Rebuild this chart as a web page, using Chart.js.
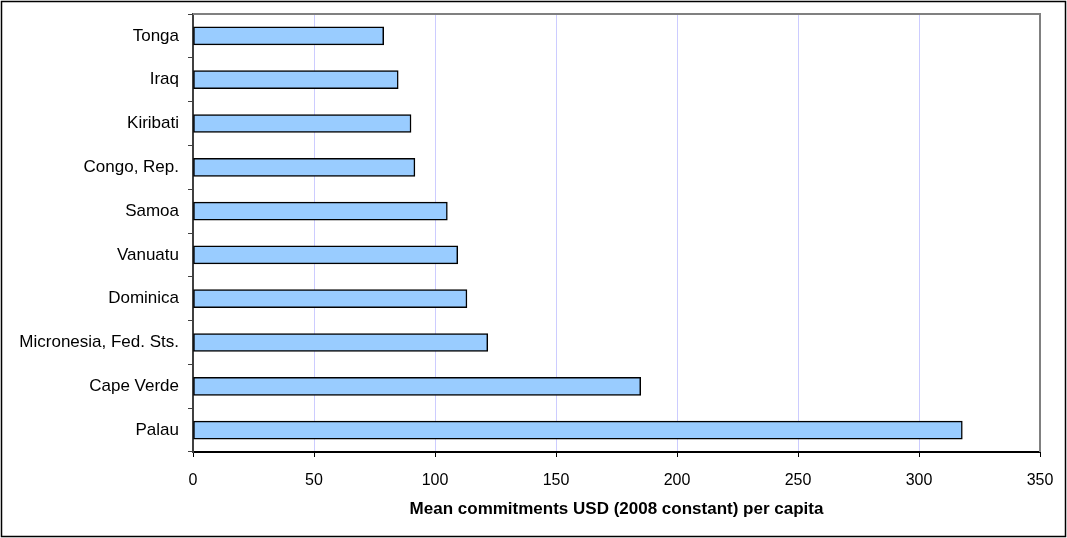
<!DOCTYPE html>
<html>
<head>
<meta charset="utf-8">
<script src="https://cdn.jsdelivr.net/npm/chart.js@4"></script>
<style>
  body { margin: 0; background: #fff; }
</style>
</head>
<body>
<canvas id="myChart" width="1067" height="538"></canvas>
<script>
const countries = ['Tonga', 'Iraq', 'Kiribati', 'Congo, Rep.', 'Samoa', 'Vanuatu',
    'Dominica', 'Micronesia, Fed. Sts.', 'Cape Verde', 'Palau'];
const commitments = [78.8, 84.8, 90.1, 91.7, 105.1, 109.4, 113.2, 121.8, 185.0, 317.9];
const xTitle = 'Mean commitments USD (2008 constant) per capita';

// outer frame + grey top/right edge of the plot area
const frame = {
    id: 'frame',
    afterDraw(chart) {
        const c = chart.ctx;
        const a = chart.chartArea;
        c.save();
        c.strokeStyle = '#808080';
        c.lineWidth = 2;
        c.beginPath();
        c.moveTo(a.left, a.top);
        c.lineTo(a.right, a.top);
        c.lineTo(a.right, a.bottom);
        c.stroke();
        c.strokeStyle = '#000';
        c.lineWidth = 1.5;
        c.strokeRect(1.5, 1.5, 1064, 535);
        c.restore();
    }
};

new Chart(document.getElementById('myChart'), {
    type: 'bar',
    data: {
        labels: countries,
        datasets: [{
            data: commitments,
            backgroundColor: '#99ccff',
            borderColor: '#000',
            borderWidth: 1.5,
            borderSkipped: false,
            barThickness: 18
        }]
    },
    options: {
        indexAxis: 'y',
        responsive: false,
        animation: false,
        layout: { padding: { left: 0, right: 27, top: 14, bottom: 0 } },
        plugins: {
            legend: { display: false },
            tooltip: { enabled: false }
        },
        scales: {
            x: {
                min: 0,
                max: 350,
                ticks: {
                    stepSize: 50,
                    color: '#000',
                    padding: 14,
                    maxRotation: 0,
                    font: { family: 'Liberation Sans, Arial, sans-serif', size: 16 }
                },
                grid: {
                    color: 'rgb(204,204,255)',
                    tickColor: '#000',
                    tickLength: 5
                },
                border: { color: '#000', width: 2 },
                title: {
                    display: true,
                    text: xTitle,
                    color: '#000',
                    padding: { top: 0, bottom: 18 },
                    font: { family: 'Liberation Sans, Arial, sans-serif', size: 17, weight: 'bold' }
                },
                afterFit(scale) {
                    scale.height = 86;
                    scale.paddingRight = 0;
                }
            },
            y: {
                ticks: {
                    color: '#000',
                    padding: 9,
                    font: { family: 'Liberation Sans, Arial, sans-serif', size: 17 }
                },
                grid: {
                    drawOnChartArea: false,
                    tickColor: '#404040',
                    tickLength: 5
                },
                border: { color: '#404040', width: 2 },
                afterFit(scale) {
                    scale.width = 193;
                    scale.paddingTop = 0;
                    scale.paddingBottom = 0;
                }
            }
        }
    },
    plugins: [frame]
});
</script>
</body>
</html>
